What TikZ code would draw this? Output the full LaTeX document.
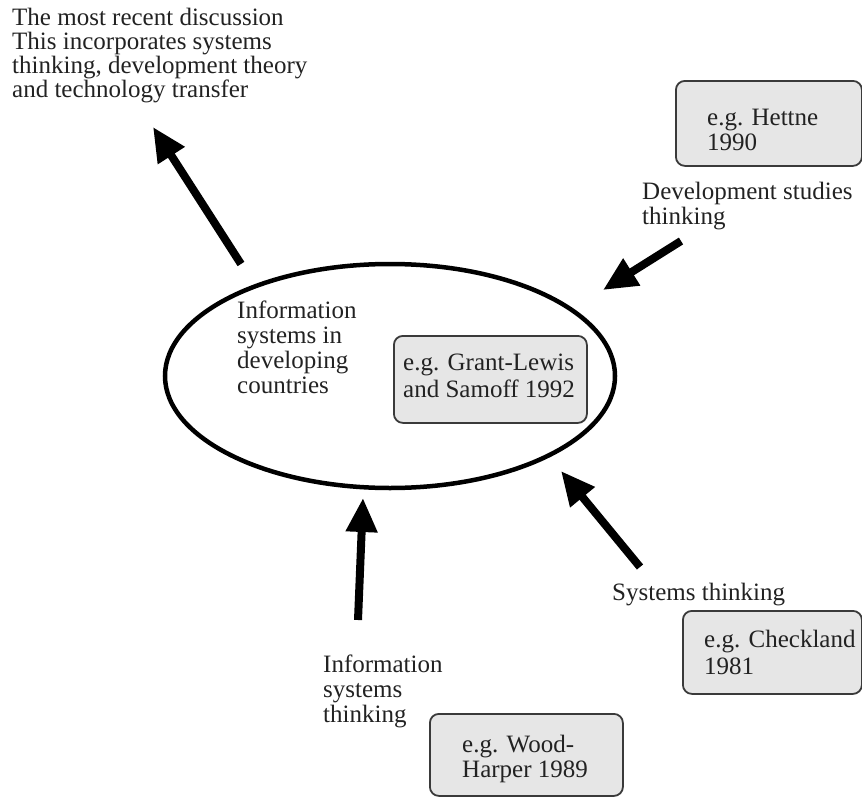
\documentclass[tikz,border=0pt]{standalone}
\usepackage{fontspec}
\setmainfont{Liberation Serif}
\usetikzlibrary{arrows.meta,shapes.geometric}

\definecolor{ink}{HTML}{222222}
\definecolor{boxfill}{HTML}{E6E6E6}
\definecolor{boxline}{HTML}{3A3A3A}

% tight leading for the stacked labels
\lineskiplimit=-30pt

% labels are placed by the baseline of their last line
\tikzset{
  txt/.style={inner sep=0pt, anchor=base west, align=left, text=ink,
    font=\fontsize{25bp}{25bp}\selectfont},
  wide/.style={font=\fontsize{25bp}{27bp}\selectfont},
  snug/.style={font=\fontsize{25bp}{23.7bp}\selectfont},
  refbox/.style={draw=boxline, fill=boxfill, line width=1.8bp,
    rounded corners=9bp, inner sep=0pt, anchor=north west},
  bigarrow/.style={draw=black, line width=8bp,
    -{Triangle[length=34bp,width=30bp]}},
}

\begin{document}
\begin{tikzpicture}[x=1bp, y=-1bp]
  \useasboundingbox (0,0) rectangle (862,797);

  % central theme
  \node[ellipse, draw=black, line width=4.5bp, minimum width=450bp,
        minimum height=224bp, inner sep=0pt] (core) at (390,376) {};
  \node[txt] (coreText) at (237,393)
    {Information\\systems in\\developing\\countries};

  % example box inside the ellipse
  \node[refbox, minimum width=193bp, minimum height=87bp] (grant) at (393,335) {};
  \node[txt, wide] (grantText) at (403,397) {e.g. Grant-Lewis\\and Samoff 1992};

  % outgoing strand: latest discussion
  \node[txt, snug] (recent) at (12,97)
    {The most recent discussion\\This incorporates systems\\thinking, development theory\\and technology transfer};
  \coordinate (recentTail) at (241,264);
  \coordinate (recentTip) at (153,127);
  \draw[bigarrow] (recentTail) -- (recentTip);

  % development studies
  \node[refbox, minimum width=186bp, minimum height=85bp] (hettne) at (675,80) {};
  \node[txt] (hettneText) at (707,150) {e.g. Hettne\\1990};
  \node[txt] (devText) at (642,224) {Development studies\\thinking};
  \coordinate (devTail) at (681,241);
  \coordinate (devTip) at (603,290);
  \draw[bigarrow] (devTail) -- (devTip);

  % systems thinking
  \node[txt] (sysText) at (612,600) {Systems thinking};
  \node[refbox, minimum width=179bp, minimum height=83bp] (check) at (682,610) {};
  \node[txt, wide] (checkText) at (704,674) {e.g. Checkland\\1981};
  \coordinate (sysTail) at (640,567);
  \coordinate (sysTip) at (561,471);
  \draw[bigarrow] (sysTail) -- (sysTip);

  % information systems thinking
  \node[txt] (isText) at (323,722) {Information\\systems\\thinking};
  \node[refbox, minimum width=193bp, minimum height=82bp] (wood) at (429,713) {};
  \node[txt] (woodText) at (462,777) {e.g. Wood-\\Harper 1989};
  \coordinate (isTail) at (358,620);
  \coordinate (isTip) at (363,498);
  \draw[bigarrow] (isTail) -- (isTip);
\end{tikzpicture}
\end{document}
